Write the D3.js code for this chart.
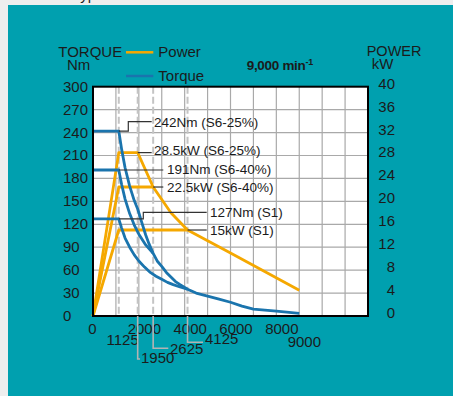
<!DOCTYPE html>
<html>
<head>
<meta charset="utf-8">
<script src="https://cdn.jsdelivr.net/npm/d3@7"></script>
<style>
body { margin: 0; background: #eeeeee; }
svg { display: block; font-family: "Liberation Sans", Arial, sans-serif; }
</style>
</head>
<body>
<svg width="453" height="396"></svg>
<script>
// tick labels
var torqueTicks = [0, 30, 60, 90, 120, 150, 180, 210, 240, 270, 300];
var powerTicks = [0, 4, 8, 12, 16, 20, 24, 28, 32, 36, 40];
var rpmTicks = [0, 2000, 4000, 6000, 8000];
var rpmGrid = [1000, 2000, 3000, 4000, 5000, 6000, 7000, 8000, 9000, 10000, 11000];
var torqueGrid = [30, 60, 90, 120, 150, 180, 210, 240, 270];
var rpmMarks = [1125, 1950, 2625, 4125];

// torque curves [rpm, Nm]
var torqueS625 = [[0, 242], [1125, 242], [1250, 218], [1400, 194], [1600, 170], [1800, 151],
    [1950, 140], [2100, 125], [2300, 106], [2450, 94], [2625, 82], [2800, 72], [3000, 65],
    [3200, 57], [3400, 51], [3600, 45], [3800, 41], [4125, 35]];
var torqueS640 = [[0, 191], [1125, 191], [1250, 172], [1400, 153], [1600, 134], [1800, 119],
    [2000, 107], [2300, 93], [2625, 82]];
var torqueS1 = [[0, 127], [1125, 127], [1250, 115], [1400, 102], [1600, 90], [1800, 80],
    [2000, 72], [2250, 64], [2500, 57], [2750, 52], [3000, 48], [3250, 44], [3500, 41],
    [3800, 38], [4125, 35], [4500, 30], [5000, 26], [5500, 22], [6000, 18], [6500, 13],
    [7000, 9], [8000, 6.5], [9000, 3.5]];

// power curves [rpm, kW]
var powerS625 = [[0, 0], [1125, 28.5], [1950, 28.5], [2625, 22.5], [3400, 18], [4125, 15]];
var powerS640 = [[0, 0], [1125, 22.5], [2625, 22.5]];
var powerS1 = [[0, 0], [1125, 15], [4125, 15], [6000, 11], [9000, 4.5]];

var svg = d3.select('svg'),
    ink = '#1b1b1b',
    orange = '#f5a800',
    blue = '#1a74ad';

var x = d3.scaleLinear().domain([0, 12000]).range([93, 368]),
    yT = d3.scaleLinear().domain([0, 300]).range([316, 86.7]),
    yP = d3.scaleLinear().domain([0, 40]).range([316, 86.7]);

// cut-off title above the panel
svg.append('text')
    .attr('x', 72)
    .attr('y', 0)
    .attr('font-size', 15)
    .attr('fill', ink)
    .text('Typical');

svg.append('rect')
    .attr('x', 8)
    .attr('y', 5)
    .attr('width', 445)
    .attr('height', 391)
    .attr('fill', '#00a0af');

svg.append('rect')
    .attr('x', x(0))
    .attr('y', yT(300))
    .attr('width', x(12000) - x(0))
    .attr('height', yT(0) - yT(300))
    .attr('fill', '#fff');

// grid
svg.append('g').selectAll('line')
    .data(rpmGrid)
    .enter().append('line')
    .attr('x1', x).attr('x2', x)
    .attr('y1', yT(300)).attr('y2', yT(0))
    .attr('stroke', '#a9a9a9')
    .attr('stroke-width', 1.2);

svg.append('g').selectAll('line')
    .data(torqueGrid)
    .enter().append('line')
    .attr('x1', x(0)).attr('x2', x(12000))
    .attr('y1', yT).attr('y2', yT)
    .attr('stroke', '#a9a9a9')
    .attr('stroke-width', 1.2);

// dashed speed markers
svg.append('g').selectAll('line')
    .data(rpmMarks)
    .enter().append('line')
    .attr('x1', x).attr('x2', x)
    .attr('y1', yT(300)).attr('y2', yT(0))
    .attr('stroke', '#c4c4c4')
    .attr('stroke-width', 2)
    .attr('stroke-dasharray', '7,3');

function drawCurve(data, yScale, color) {
    var line = d3.line()
        .x(function (d) { return x(d[0]); })
        .y(function (d) { return yScale(d[1]); });

    svg.append('path')
        .datum(data)
        .attr('d', line)
        .attr('fill', 'none')
        .attr('stroke', color)
        .attr('stroke-width', 2.8)
        .attr('stroke-linejoin', 'round');
}

drawCurve(powerS625, yP, orange);
drawCurve(powerS640, yP, orange);
drawCurve(powerS1, yP, orange);
drawCurve(torqueS625, yT, blue);
drawCurve(torqueS640, yT, blue);
drawCurve(torqueS1, yT, blue);

// leaders + labels for ratings
function note(path, label, lx, ly) {
    svg.append('path')
        .attr('d', path)
        .attr('fill', 'none')
        .attr('stroke', '#333')
        .attr('stroke-width', 1.2);
    svg.append('text')
        .attr('x', lx)
        .attr('y', ly)
        .attr('font-size', 13.5)
        .attr('fill', ink)
        .text(label);
}

note('M' + x(1125) + ',' + yT(242) + 'H128.3V121.7H151.7', '242Nm (S6-25%)', 154, 126.5);
note('M' + x(1950) + ',' + yP(28.5) + 'H151.7', '28.5kW (S6-25%)', 154, 155);
note('M' + x(1125) + ',' + yT(191) + 'H163.3', '191Nm (S6-40%)', 167, 174);
note('M' + x(2625) + ',' + yP(22.5) + 'H163.3', '22.5kW (S6-40%)', 167, 192);
note('M' + x(1125) + ',' + yT(127) + 'H143.3V212.3H206.7', '127Nm (S1)', 210, 216.7);
note('M' + x(4125) + ',' + yP(15) + 'H206.7', '15kW (S1)', 210, 235);

// plot border
svg.append('rect')
    .attr('x', x(0))
    .attr('y', yT(300))
    .attr('width', x(12000) - x(0))
    .attr('height', yT(0) - yT(300))
    .attr('fill', 'none')
    .attr('stroke', '#000')
    .attr('stroke-width', 2);

// left axis
svg.append('g').selectAll('text')
    .data(torqueTicks)
    .enter().append('text')
    .attr('x', 63)
    .attr('y', function (d) { return yT(d) + 5; })
    .attr('font-size', 15)
    .attr('fill', ink)
    .text(function (d) { return d; });

// right axis
svg.append('g').selectAll('text')
    .data(powerTicks)
    .enter().append('text')
    .attr('x', 395)
    .attr('y', function (d) { return yP(d) + 2; })
    .attr('text-anchor', 'end')
    .attr('font-size', 15)
    .attr('fill', ink)
    .text(function (d) { return d; });

// bottom axis
svg.append('g').selectAll('text')
    .data(rpmTicks)
    .enter().append('text')
    .attr('x', function (d) { return d === 0 ? x(d) - 0.5 : x(d) + 5.5; })
    .attr('y', 334)
    .attr('text-anchor', 'middle')
    .attr('font-size', 15)
    .attr('fill', ink)
    .text(function (d) { return d; });

// marked speeds under the axis
function speedLabel(rpm, path, lx, ly) {
    if (path) {
        svg.append('path')
            .attr('d', 'M' + x(rpm) + ',' + yT(0) + path)
            .attr('fill', 'none')
            .attr('stroke', '#b3b3b3')
            .attr('stroke-width', 1.6);
    }
    svg.append('text')
        .attr('x', lx)
        .attr('y', ly)
        .attr('font-size', 15)
        .attr('fill', ink)
        .text(rpm);
}

speedLabel(1125, null, 106.5, 345);
speedLabel(1950, 'V359H140', 141, 363.3);
speedLabel(2625, 'V348.3H168.3', 170, 354);
speedLabel(4125, 'V342.3H203', 205, 344.3);
speedLabel(9000, null, 287.7, 347.3);

// headings
svg.append('text')
    .attr('x', 58.3).attr('y', 57)
    .attr('font-size', 15).attr('fill', ink)
    .text('TORQUE');
svg.append('text')
    .attr('x', 78.7).attr('y', 70).attr('text-anchor', 'middle')
    .attr('font-size', 15).attr('fill', ink)
    .text('Nm');
svg.append('text')
    .attr('x', 366.7).attr('y', 56)
    .attr('font-size', 14.5).attr('fill', ink)
    .text('POWER');
svg.append('text')
    .attr('x', 371.7).attr('y', 69.3)
    .attr('font-size', 15).attr('fill', ink)
    .text('kW');

var speedTitle = svg.append('text')
    .attr('x', 246.7).attr('y', 70)
    .attr('font-size', 13.5).attr('font-weight', 'bold')
    .attr('letter-spacing', -0.3)
    .attr('fill', ink);
speedTitle.append('tspan').text('9,000 min');
speedTitle.append('tspan').attr('dy', -5).attr('font-size', 9).text('-1');

// legend
var legend = [{ name: 'Power', color: orange }, { name: 'Torque', color: blue }];
legend.forEach(function (d, i) {
    var ly = 52.3 + i * 23.7;
    svg.append('line')
        .attr('x1', 126).attr('x2', 153.3)
        .attr('y1', ly).attr('y2', ly)
        .attr('stroke', d.color)
        .attr('stroke-width', 2.5);
    svg.append('text')
        .attr('x', 158.3).attr('y', ly + 4.5)
        .attr('font-size', 15).attr('fill', ink)
        .text(d.name);
});
</script>
</body>
</html>
